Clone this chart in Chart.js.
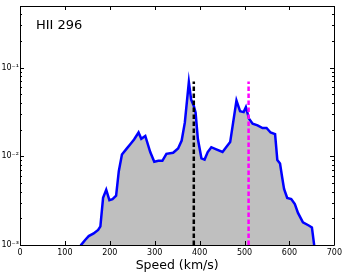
<!DOCTYPE html>
<html>
<head>
<meta charset="utf-8">
<script src="https://cdn.jsdelivr.net/npm/chart.js@4.4.0/dist/chart.umd.min.js"></script>
<style>
  html, body { margin: 0; padding: 0; background: #fff; }
  #wrap { width: 345px; height: 273px; }
</style>
</head>
<body>
<div id="wrap"><canvas id="chart"></canvas></div>
<script>
// Speed distribution (km/s) and probability density (log scale)
const speeds = [128, 136, 145, 153, 164, 174, 179, 185, 192, 199, 206, 214, 220, 227, 238, 246, 254, 264, 270, 279, 290, 299, 308, 317, 326, 341, 352, 360, 367, 376, 381, 387, 391, 396, 404, 411, 418, 426, 437, 451, 459, 468, 482, 490, 498, 503, 510, 518, 529, 540, 549, 558, 568, 573, 579, 584, 588, 595, 604, 612, 619, 630, 643, 650, 655, 660];
const density = [0.0008, 0.00100, 0.00114, 0.00126, 0.00135, 0.00148, 0.00162, 0.0034, 0.0042, 0.0032, 0.0033, 0.0036, 0.0068, 0.0105, 0.0123, 0.0138, 0.0155, 0.0186, 0.0158, 0.0170, 0.0112, 0.0087, 0.0089, 0.0089, 0.0107, 0.0110, 0.0123, 0.0151, 0.024, 0.069, 0.044, 0.037, 0.031, 0.0158, 0.0095, 0.0092, 0.0112, 0.0127, 0.0120, 0.0112, 0.0127, 0.0145, 0.0427, 0.0324, 0.0316, 0.0359, 0.0266, 0.0234, 0.0224, 0.0209, 0.0209, 0.0186, 0.0178, 0.0091, 0.0083, 0.0057, 0.0043, 0.0034, 0.0033, 0.0029, 0.0023, 0.0018, 0.00166, 0.00158, 0.00100, 0.0006];

// Reference speeds (dashed markers)
const markerSpeeds = [387, 509];
const markerTop = 0.07;
const markerColors = ['#000000', '#ff00ff'];

const xTicks = [0, 100, 200, 300, 400, 500, 600, 700];
const yTicks = [0.001, 0.01, 0.1];
const yTickLabels = ['10\u207B\u00B3', '10\u207B\u00B2', '10\u207B\u00B9'];
const yMin = 0.001, yMax = 0.5;

const curve = speeds.map((s, i) => ({ x: s, y: density[i] }));

const markerSets = markerSpeeds.map((s, i) => ({
  data: [{ x: s, y: yMin }, { x: s, y: markerTop }],
  borderColor: markerColors[i],
  borderWidth: 2.5,
  borderDash: [4.5, 2.5],
  pointRadius: 0,
  fill: false,
  order: 1
}));

// cadre + graduations vers l'interieur + titre
const framePlugin = {
  id: 'frame',
  afterDraw(chart) {
    const { ctx, chartArea: a, scales } = chart;
    const L = Math.round(a.left), R = Math.round(a.right);
    const T = Math.round(a.top), B = Math.round(a.bottom);
    ctx.save();
    ctx.strokeStyle = '#000';
    ctx.lineWidth = 1;
    ctx.beginPath();
    ctx.rect(L + 0.5, T + 0.5, R - L, B - T);
    xTicks.forEach(v => {
      const px = Math.round(scales.x.getPixelForValue(v)) + 0.5;
      ctx.moveTo(px, B); ctx.lineTo(px, B - 4);
      ctx.moveTo(px, T); ctx.lineTo(px, T + 4);
    });
    for (let e = -3; e <= -1; e++) {
      for (let m = 1; m <= 9; m++) {
        const v = m * Math.pow(10, e);
        if (v > yMax) continue;
        const py = Math.round(scales.y.getPixelForValue(v)) + 0.5;
        const len = m === 1 ? 4 : 2;
        ctx.moveTo(L, py); ctx.lineTo(L + len, py);
        ctx.moveTo(R, py); ctx.lineTo(R - len, py);
      }
    }
    ctx.stroke();
    ctx.fillStyle = '#000';
    ctx.font = '13px "DejaVu Sans"';
    ctx.textBaseline = 'middle';
    ctx.fillText('HII 296', L + 16, T + 20);
    ctx.restore();
  }
};

new Chart(document.getElementById('chart'), {
  type: 'line',
  data: {
    datasets: [{
      data: curve,
      borderColor: '#0000ff',
      borderWidth: 2.5,
      backgroundColor: '#bfbfbf',
      fill: 'start',
      pointRadius: 0,
      tension: 0,
      order: 2
    }, ...markerSets]
  },
  options: {
    responsive: true,
    maintainAspectRatio: false,
    animation: false,
    layout: { padding: { top: 0, right: 7, left: 0, bottom: 0 } },
    plugins: { legend: { display: false }, tooltip: { enabled: false } },
    scales: {
      x: {
        type: 'linear', min: 0, max: 700,
        afterBuildTicks: s => { s.ticks = xTicks.map(v => ({ value: v })); },
        afterFit: s => { s.height = 28; },
        grid: { display: false, drawTicks: false },
        border: { display: false },
        ticks: { color: '#000', font: { family: 'DejaVu Sans', size: 8 }, padding: 3, maxRotation: 0 },
        title: { display: true, text: 'Speed (km/s)', color: '#000', font: { family: 'DejaVu Sans', size: 12.5 }, padding: { top: 0, bottom: 0 } }
      },
      y: {
        type: 'logarithmic', min: yMin, max: yMax,
        afterBuildTicks: s => { s.ticks = yTicks.map(v => ({ value: v })); },
        afterFit: s => { s.width = 20; },
        grid: { display: false, drawTicks: false },
        border: { display: false },
        ticks: {
          color: '#000', font: { family: 'DejaVu Sans', size: 8 }, padding: 1,
          callback: v => yTickLabels[yTicks.findIndex(t => Math.abs(t - v) < v * 1e-6)] || ''
        }
      }
    }
  },
  plugins: [framePlugin]
});
</script>
</body>
</html>
